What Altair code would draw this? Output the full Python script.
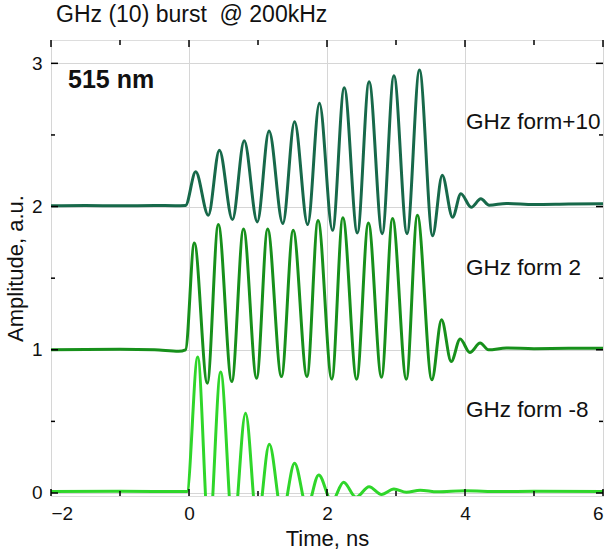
import altair as alt
import pandas as pd

# ---- data ----
t_top = [-2.0, -1.5, -1.0, -0.5, -0.2, -0.05, 0.097, 0.28, 0.44, 0.63, 0.80, 0.99, 1.16, 1.36,
         1.53, 1.72, 1.89, 2.08, 2.25, 2.44, 2.61, 2.80, 2.97, 3.16, 3.34, 3.53, 3.67, 3.82,
         3.94, 4.09, 4.23, 4.35, 4.6, 5.0, 5.5, 6.0]
a_top = [2.005, 2.008, 2.005, 2.008, 2.006, 2.008, 2.243, 1.94, 2.394, 1.909, 2.459, 1.893, 2.527,
         1.881, 2.592, 1.874, 2.722, 1.834, 2.830, 1.816, 2.872, 1.811, 2.914, 1.811, 2.953,
         1.797, 2.219, 1.925, 2.089, 1.995, 2.054, 2.009, 2.022, 2.015, 2.018, 2.02]

t_mid = [-2.0, -1.0, -0.5, -0.15, -0.05, 0.077, 0.265, 0.425, 0.62, 0.79, 0.98, 1.14, 1.34, 1.51,
         1.71, 1.87, 2.07, 2.23, 2.43, 2.60, 2.79, 2.95, 3.15, 3.31, 3.52, 3.66, 3.80, 3.93,
         4.07, 4.22, 4.34, 4.6, 5.0, 5.5, 6.0]
a_mid = [1.0, 1.003, 1.0, 0.99, 1.0, 1.746, 0.767, 1.874, 0.778, 1.844, 0.802, 1.844, 0.813, 1.834,
         0.813, 1.902, 0.795, 1.921, 0.795, 1.886, 0.809, 1.916, 0.795, 1.939, 0.79, 1.21,
         0.918, 1.075, 0.981, 1.047, 1.0, 1.012, 1.008, 1.01, 1.01]

t_bot = [-2.0, -1.0, -0.03, 0.126, 0.29, 0.459, 0.64, 0.82, 0.99, 1.164, 1.35, 1.53, 1.71, 1.88,
         2.07, 2.24, 2.42, 2.61, 2.79, 2.97, 3.15, 3.35, 3.6, 4.0, 4.5, 5.0, 6.0]
a_bot = [0.01, 0.012, 0.01, 0.949, -0.3, 0.844, -0.28, 0.557, -0.22, 0.340, -0.15, 0.208, -0.1,
         0.126, -0.06, 0.075, -0.03, 0.044, -0.01, 0.028, 0.005, 0.02, 0.008, 0.015, 0.01, 0.012, 0.01]

series = ["GHz form+10", "GHz form 2", "GHz form -8"]
colors = ["#17694a", "#17901b", "#2fd62a"]

x_major = [-2, 0, 2, 4, 6]
x_minor = [-1, 1, 3, 5]
y_major = [0, 1, 2, 3]
y_minor = [0.5, 1.5, 2.5]

W, H = 552, 456
FONT = "Liberation Sans"

rows = []
for name, ts, vs in [(series[0], t_top, a_top), (series[1], t_mid, a_mid), (series[2], t_bot, a_bot)]:
    for t, v in zip(ts, vs):
        rows.append({"series": name, "t": t, "a": v})
df = pd.DataFrame(rows)

xs = alt.Scale(domain=[-2, 6], nice=False, zero=False)
ys = alt.Scale(domain=[-0.021, 3.163], nice=False, zero=False)

X_AX = alt.Axis(values=x_major, grid=True, gridColor="#d6d6d6", tickSize=0, domain=False,
                labelFontSize=19, labelPadding=8, titleFontSize=22, titlePadding=5,
                labelFont=FONT, titleFont=FONT, labelColor="#111", titleColor="#111",
                titleFontWeight="normal")
Y_AX = alt.Axis(values=y_major, format="d", grid=True, gridColor="#d6d6d6", tickSize=0,
                domain=False, labelFontSize=19, labelPadding=9, titleFontSize=22,
                titlePadding=4, labelFont=FONT, titleFont=FONT, labelColor="#111",
                titleColor="#111", titleFontWeight="normal")
XT = "Time, ns"
YT = "Amplitude, a.u."

lines = alt.Chart(df).mark_line(interpolate="monotone", strokeWidth=3, clip=True).encode(
    x=alt.X("t:Q", scale=xs, title=XT, axis=X_AX),
    y=alt.Y("a:Q", scale=ys, title=YT, axis=Y_AX),
    color=alt.Color("series:N", scale=alt.Scale(domain=series, range=colors), legend=None),
    detail="series:N",
)

def vticks(vals, y0, y1):
    d = pd.DataFrame({"t": vals})
    return alt.Chart(d).mark_rule(color="black", strokeWidth=1.5).encode(
        x=alt.X("t:Q", scale=xs, title=XT, axis=X_AX), y=alt.value(y0), y2=alt.value(y1))

def hticks(vals, x0, x1):
    d = pd.DataFrame({"a": vals})
    return alt.Chart(d).mark_rule(color="black", strokeWidth=1.5).encode(
        y=alt.Y("a:Q", scale=ys, title=YT, axis=Y_AX), x=alt.value(x0), x2=alt.value(x1))

ticks = [
    vticks(x_major, H, H - 7), vticks(x_minor, H, H - 5),
    vticks(x_major, 0, 7), vticks(x_minor, 0, 5),
    hticks(y_major, 0, 7), hticks(y_minor, 0, 4),
    hticks(y_major, W, W - 7), hticks(y_minor, W, W - 4),
]

def label(txt, x, y, size=22.5, weight="normal"):
    return alt.Chart(pd.DataFrame({"s": [txt]})).mark_text(
        align="left", baseline="middle", fontSize=size, font=FONT, fontWeight=weight, color="#111"
    ).encode(text="s:N", x=alt.value(x), y=alt.value(y))

texts = [
    label(series[0], 415, 82),
    label(series[1], 415, 228),
    label(series[2], 415, 370),
    label("515 nm", 17, 40, size=25, weight="bold"),
    label("GHz (10) burst \u00a0@ 200kHz", 5, -25, size=23),
]

chart = alt.layer(lines, *ticks, *texts).properties(
    width=W, height=H,
    padding={"left": 51, "top": 40, "right": 5, "bottom": 58},
    autosize=alt.AutoSizeParams(type="none"),
).configure_view(stroke="black", strokeWidth=1.5).configure(background="white")

chart.save("out.html", embed_options={"renderer": "svg", "actions": False})
